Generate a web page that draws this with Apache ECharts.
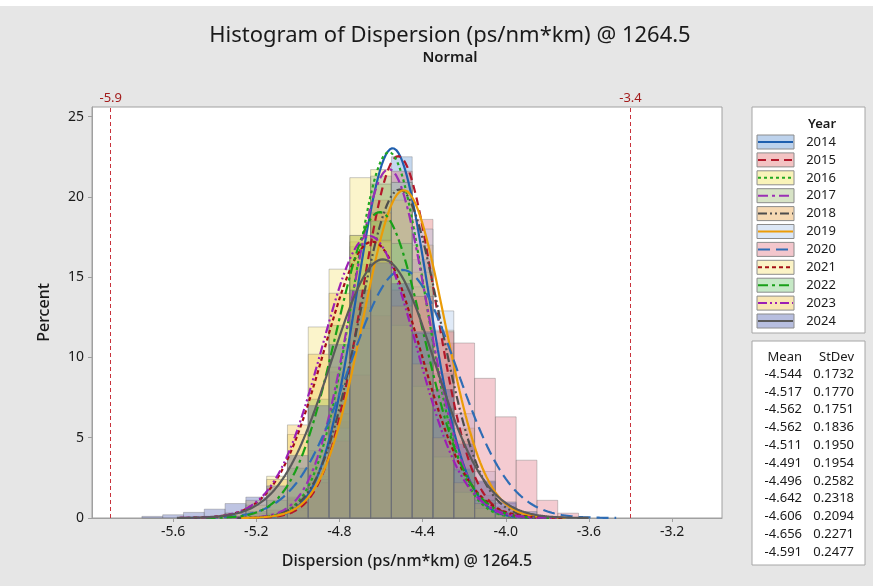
<!DOCTYPE html>
<html>
<head>
<meta charset="utf-8">
<script src="https://cdn.jsdelivr.net/npm/echarts@6/dist/echarts.min.js"></script>
<style>
html, body { margin: 0; padding: 0; background: #e6e6e6; }
#chart { width: 873px; height: 586px; }
</style>
</head>
<body>
<div id="chart"></div>
<script>
// data
var years = ['2014', '2015', '2016', '2017', '2018', '2019', '2020', '2021', '2022', '2023', '2024'];
var binCenters = [-5.7, -5.6, -5.5, -5.4, -5.3, -5.2, -5.1, -5.0, -4.9, -4.8, -4.7, -4.6, -4.5, -4.4, -4.3, -4.2, -4.1, -4.0, -3.9, -3.8, -3.7];
var pct2014 = [0, 0, 0, 0, 0, 0, 0.2, 0.8, 2.6, 7.4, 15.8, 21.3, 22.5, 16.1, 9.0, 3.1, 0.9, 0.3, 0, 0, 0];
var pct2015 = [0, 0, 0, 0, 0, 0, 0.1, 0.5, 2.4, 6.0, 13.5, 19.8, 21.6, 18.6, 10.9, 4.8, 1.4, 0.4, 0, 0, 0];
var pct2016 = [0, 0, 0, 0, 0, 0, 0.2, 1.1, 3.3, 9.4, 17.2, 21.7, 20.4, 15.3, 7.6, 2.8, 0.8, 0.2, 0, 0, 0];
var pct2017 = [0, 0, 0, 0, 0, 0.1, 0.3, 1.3, 4.2, 9.1, 16.9, 20.8, 20.9, 14.4, 7.9, 3.0, 0.9, 0.2, 0, 0, 0];
var pct2018 = [0, 0, 0, 0, 0, 0.1, 0.2, 0.9, 3.0, 6.5, 13.1, 19.0, 19.8, 17.0, 11.7, 5.6, 2.2, 0.7, 0.2, 0, 0];
var pct2019 = [0, 0, 0, 0, 0, 0, 0.1, 0.6, 2.4, 5.6, 11.8, 17.2, 20.9, 18.0, 12.9, 6.5, 2.9, 0.9, 0.2, 0, 0];
var pct2020 = [0, 0, 0, 0, 0.1, 0.3, 0.5, 1.2, 2.2, 4.8, 8.9, 12.6, 14.2, 13.8, 11.6, 10.9, 8.7, 6.3, 3.6, 1.1, 0.3];
var pct2021 = [0, 0, 0, 0.1, 0.3, 0.8, 2.6, 5.2, 11.9, 15.5, 21.2, 16.0, 12.0, 8.2, 3.8, 1.6, 0.6, 0.2, 0, 0, 0];
var pct2022 = [0, 0, 0, 0, 0.1, 0.4, 1.1, 3.1, 7.4, 12.0, 17.6, 18.5, 17.1, 11.5, 6.8, 3.0, 1.1, 0.3, 0, 0, 0];
var pct2023 = [0, 0, 0, 0.1, 0.3, 1.1, 2.4, 5.8, 10.2, 14.0, 17.6, 17.3, 13.2, 9.6, 5.0, 2.2, 0.9, 0.3, 0, 0, 0];
var pct2024 = [0.1, 0.2, 0.35, 0.55, 0.9, 1.3, 2.0, 3.9, 7.0, 10.8, 14.2, 15.9, 14.6, 11.6, 8.0, 4.6, 2.3, 1.0, 0.4, 0.1, 0];
var means = [-4.544, -4.517, -4.562, -4.562, -4.511, -4.491, -4.496, -4.642, -4.606, -4.656, -4.591];
var stdevs = [0.1732, 0.1770, 0.1751, 0.1836, 0.1950, 0.1954, 0.2582, 0.2318, 0.2094, 0.2271, 0.2477];
var specLimits = [-5.9, -3.4];
var xTicks = [-5.6, -5.2, -4.8, -4.4, -4.0, -3.6, -3.2];
var yTicks = [0, 5, 10, 15, 20, 25];

var pctByYear = [pct2014, pct2015, pct2016, pct2017, pct2018, pct2019, pct2020, pct2021, pct2022, pct2023, pct2024];
var binWidth = 0.1;
var barAlpha = 0.36;

var fills = ['#5b8fd0', '#e06a6a', '#f0e050', '#9ab870', '#e8a040', '#a8c4e8', '#e07080', '#f5e070', '#70c870', '#f0c040', '#4a5cb0'];
var lineColors = ['#1f5fae', '#b2182b', '#22a822', '#9b30b5', '#4d4d4d', '#eb9c08', '#2f6db5', '#a50f15', '#18a018', '#9c1fb5', '#5a5a5a'];
var dashes = ['solid', [8, 5], [3, 3], [10, 4, 3, 4], [9, 3, 2, 3, 2, 3], 'solid', [12, 6], [4, 3], [10, 4, 3, 4], [9, 3, 2, 3, 2, 3], 'solid'];

var series = [];

// histogram bars, one custom series per year
years.forEach(function (yr, i) {
  var data = [];
  binCenters.forEach(function (c, k) {
    if (pctByYear[i][k] > 0) data.push([c, pctByYear[i][k]]);
  });
  series.push({
    type: 'custom',
    name: yr,
    data: data,
    z: 2,
    renderItem: function (params, api) {
      var p0 = api.coord([api.value(0) - binWidth / 2, api.value(1)]);
      var p1 = api.coord([api.value(0) + binWidth / 2, 0]);
      return {
        type: 'rect',
        shape: { x: p0[0], y: p0[1], width: p1[0] - p0[0], height: p1[1] - p0[1] },
        style: { fill: fills[i], stroke: '#6e6e6e', lineWidth: 1, opacity: barAlpha }
      };
    }
  });
});

// fitted normal curves (percent per bin), from the Mean / StDev table
years.forEach(function (yr, i) {
  var mu = means[i], sd = stdevs[i];
  var pts = [];
  for (var x = mu - 4 * sd; x <= mu + 4 * sd; x += 0.01) {
    var z = (x - mu) / sd;
    pts.push([x, 100 * binWidth * Math.exp(-z * z / 2) / (sd * Math.sqrt(2 * Math.PI))]);
  }
  series.push({
    type: 'line',
    name: yr + ' fit',
    data: pts,
    showSymbol: false,
    z: 3,
    lineStyle: { color: lineColors[i], width: 2.2, type: dashes[i] }
  });
});

// spec limit lines
series.push({
  type: 'line',
  data: [],
  markLine: {
    silent: true,
    symbol: 'none',
    lineStyle: { color: '#c8323c', width: 1, type: [4, 3] },
    label: { position: 'end', color: '#a31c1c', fontSize: 13, fontFamily: 'Noto Sans', distance: 2, formatter: function (p) { return p.value; } },
    data: specLimits.map(function (v) { return { xAxis: v }; })
  }
});

// legend + stats boxes
var txt = '13px "Noto Sans"';
var graphics = [
  { type: 'rect', shape: { x: 0, y: 0, width: 873, height: 6 }, style: { fill: '#fff' } },
  { type: 'rect', shape: { x: 752, y: 107, width: 113, height: 226 }, style: { fill: '#fff', stroke: '#a6a6a6', lineWidth: 1 } },
  { type: 'text', x: 822, y: 124, style: { text: 'Year', fill: '#1a1a1a', font: '600 13px "Noto Sans"', align: 'center', verticalAlign: 'middle' } },
  { type: 'rect', shape: { x: 752, y: 341, width: 113, height: 224 }, style: { fill: '#fff', stroke: '#a6a6a6', lineWidth: 1 } },
  { type: 'text', x: 802, y: 357, style: { text: 'Mean', fill: '#1a1a1a', font: txt, align: 'right', verticalAlign: 'middle' } },
  { type: 'text', x: 854, y: 357, style: { text: 'StDev', fill: '#1a1a1a', font: txt, align: 'right', verticalAlign: 'middle' } }
];
years.forEach(function (yr, i) {
  var cy = 142 + i * 17.9;
  graphics.push({ type: 'rect', shape: { x: 757, y: cy - 7, width: 37, height: 14 }, style: { fill: fills[i], opacity: 0.4 } });
  graphics.push({ type: 'rect', shape: { x: 757, y: cy - 7, width: 37, height: 14 }, style: { fill: 'none', stroke: '#8c8c8c', lineWidth: 1 } });
  graphics.push({ type: 'line', shape: { x1: 758, y1: cy, x2: 793, y2: cy }, style: { stroke: lineColors[i], lineWidth: 2, lineDash: dashes[i] === 'solid' ? null : dashes[i] } });
  graphics.push({ type: 'text', x: 821, y: cy, style: { text: yr, fill: '#1a1a1a', font: txt, align: 'center', verticalAlign: 'middle' } });
  var sy = 374 + i * 17.8;
  graphics.push({ type: 'text', x: 802, y: sy, style: { text: means[i].toFixed(3), fill: '#1a1a1a', font: txt, align: 'right', verticalAlign: 'middle' } });
  graphics.push({ type: 'text', x: 854, y: sy, style: { text: stdevs[i].toFixed(4), fill: '#1a1a1a', font: txt, align: 'right', verticalAlign: 'middle' } });
});

var option = {
  backgroundColor: '#e6e6e6',
  animation: false,
  title: {
    text: 'Histogram of Dispersion (ps/nm*km) @ 1264.5',
    subtext: 'Normal',
    left: 445,
    top: 20,
    textAlign: 'center',
    itemGap: 3,
    textStyle: { fontFamily: 'Noto Sans', fontSize: 22, fontWeight: 'normal', color: '#1a1a1a' },
    subtextStyle: { fontFamily: 'Noto Sans', fontSize: 15, fontWeight: 600, color: '#1a1a1a' }
  },
  grid: {
    left: 92, right: 151, top: 107, bottom: 68,
    show: true, backgroundColor: '#fff', borderColor: '#a0a0a0', borderWidth: 1
  },
  xAxis: {
    type: 'value',
    min: -5.99,
    max: -2.96,
    name: 'Dispersion (ps/nm*km) @ 1264.5',
    nameLocation: 'middle',
    nameGap: 35,
    nameTextStyle: { fontFamily: 'Noto Sans', fontSize: 16, fontWeight: 500, color: '#1a1a1a' },
    axisLine: { show: true, lineStyle: { color: '#a0a0a0' } },
    axisTick: { show: true, customValues: xTicks, length: 4, lineStyle: { color: '#a0a0a0' } },
    axisLabel: { customValues: xTicks, fontFamily: 'Noto Sans', fontSize: 14, color: '#1a1a1a', margin: 7, formatter: function (v) { return v.toFixed(1); } },
    splitLine: { show: false }
  },
  yAxis: {
    type: 'value',
    min: 0,
    max: 25.6,
    name: 'Percent',
    nameLocation: 'middle',
    nameGap: 40,
    nameTextStyle: { fontFamily: 'Noto Sans', fontSize: 16, fontWeight: 500, color: '#1a1a1a' },
    axisLine: { show: true, lineStyle: { color: '#a0a0a0' } },
    axisTick: { show: true, customValues: yTicks, length: 4, lineStyle: { color: '#a0a0a0' } },
    axisLabel: { customValues: yTicks, fontFamily: 'Noto Sans', fontSize: 14, color: '#1a1a1a', margin: 8 },
    splitLine: { show: false }
  },
  series: series,
  graphic: graphics
};

var chart = echarts.init(document.getElementById('chart'));
chart.setOption(option);
</script>
</body>
</html>
